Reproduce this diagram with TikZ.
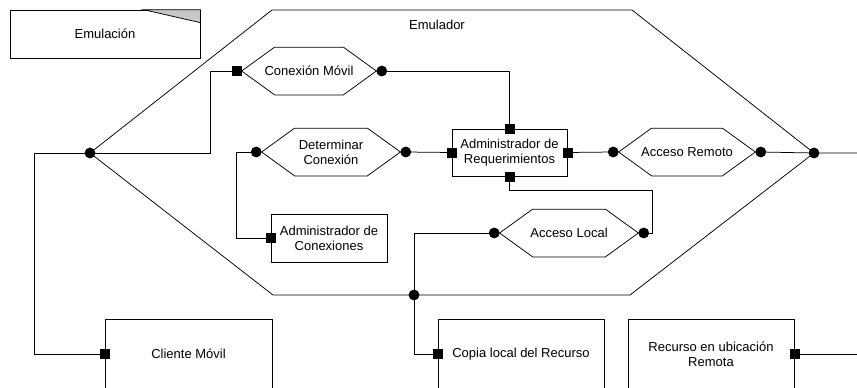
\documentclass[tikz,border=0pt]{standalone}
\usepackage{fontspec}
\setmainfont{Liberation Sans}
\definecolor{cornergray}{HTML}{C8C8C8}

\begin{document}
\begin{tikzpicture}[x=1pt, y=-1pt, line width=0.75pt,
    every node/.style={font=\fontsize{13}{15}\selectfont, inner sep=0pt},
    box/.style={draw, rectangle, align=center},
    hexa/.style={rectangle, align=center, minimum height=47pt},
    port/.style={draw, fill, rectangle, minimum size=9pt},
    dot/.style={draw, fill, circle, minimum size=10pt}]

        % Page
        \path[use as bounding box, fill=white] (0,0) rectangle (857,388);

        % Legend
        \node[box, minimum width=190pt, minimum height=48pt] (legend) at (105,34) {Emulación};
        \filldraw[fill=cornergray] ([xshift=-57pt]legend.north east) -- (legend.north east) -- ([yshift=-13pt]legend.north east) -- cycle;

        % Emulador outline
        \draw (90,153) -- (272,10) -- (632,10) -- (814,153) -- (630,295) -- (273,295) -- cycle;
        \node (emulador) at (437,25) {Emulador};
        \node[dot] (demuL) at (90,153) {};
        \node[dot] (demuR) at (814,153) {};
        \node[dot] (demuB) at (414,295) {};

        % Hexagons
        \node[hexa, minimum width=134pt] (movil) at (309,71) {Conexión Móvil};
        \node[hexa, minimum width=138pt] (determinar) at (331,152) {Determinar\\Conexión};
        \node[hexa, minimum width=136pt] (remoto) at (687,152) {Acceso Remoto};
        \node[hexa, minimum width=138pt] (local) at (569,233) {Acceso Local};
        \foreach \h in {movil, determinar, remoto, local}
          \draw (\h.west) -- ([xshift=33pt]\h.north west) -- ([xshift=-33pt]\h.north east)
            -- (\h.east) -- ([xshift=-33pt]\h.south east) -- ([xshift=33pt]\h.south west) -- cycle;

        % Boxes
        \node[box, minimum width=115pt, minimum height=47pt] (requer) at (509.5,152.5) {Administrador de\\Requerimientos};
        \node[box, minimum width=116pt, minimum height=48pt] (conex) at (329,238) {Administrador de\\Conexiones};
        \node[box, minimum width=167pt, minimum height=70pt] (cliente) at (188.5,354) {Cliente Móvil};
        \node[box, minimum width=166pt, minimum height=70pt] (copia) at (521,354) {Copia local del Recurso};
        \node[box, minimum width=166pt, minimum height=70pt] (recurso) at (711,354) {Recurso en ubicación\\Remota};

        % Ports
        \node[port, anchor=east] (pmovil) at (movil.west) {};
        \node[port] (preqN) at (requer.north) {};
        \node[port] (preqW) at (requer.west) {};
        \node[port] (preqE) at (requer.east) {};
        \node[port] (preqS) at (requer.south) {};
        \node[port] (pconex) at (conex.west) {};
        \node[port] (pcliente) at (cliente.west) {};
        \node[port] (pcopia) at (copia.west) {};
        \node[port] (precurso) at (recurso.east) {};

        % Dots
        \node[dot, anchor=west] (dmovil) at (movil.east) {};
        \node[dot, anchor=east] (ddetL) at (determinar.west) {};
        \node[dot, anchor=west] (ddetR) at (determinar.east) {};
        \node[dot, anchor=east] (dremL) at (remoto.west) {};
        \node[dot, anchor=west] (dremR) at (remoto.east) {};
        \node[dot, anchor=east] (dlocL) at (local.west) {};
        \node[dot, anchor=west] (dlocR) at (local.east) {};

        % Loose ends at the page edge
        \coordinate (edgeA) at (857,153);
        \coordinate (edgeB) at (857,354);

        % Connections
        \draw (demuL) -- ([xshift=-56pt]demuL.center) |- (pcliente);
        \draw (demuL) -| ([xshift=-26pt]pmovil.center) -- (pmovil);
        \draw (dmovil) -| (preqN);
        \draw (ddetL) -- ([xshift=-20pt]ddetL.center) |- (pconex);
        \draw (ddetR) -- (preqW);
        \draw (preqE) -- (dremL);
        \draw (dremR) -- (demuR) -- (edgeA);
        \draw (preqS) -- ([yshift=-14pt]preqS.center) -| ([xshift=9pt]dlocR.center) -- (dlocR);
        \draw (dlocL) -| (demuB);
        \draw (demuB) |- (pcopia);
        \draw (precurso) -- (edgeB);
      \end{tikzpicture}
\end{document}
